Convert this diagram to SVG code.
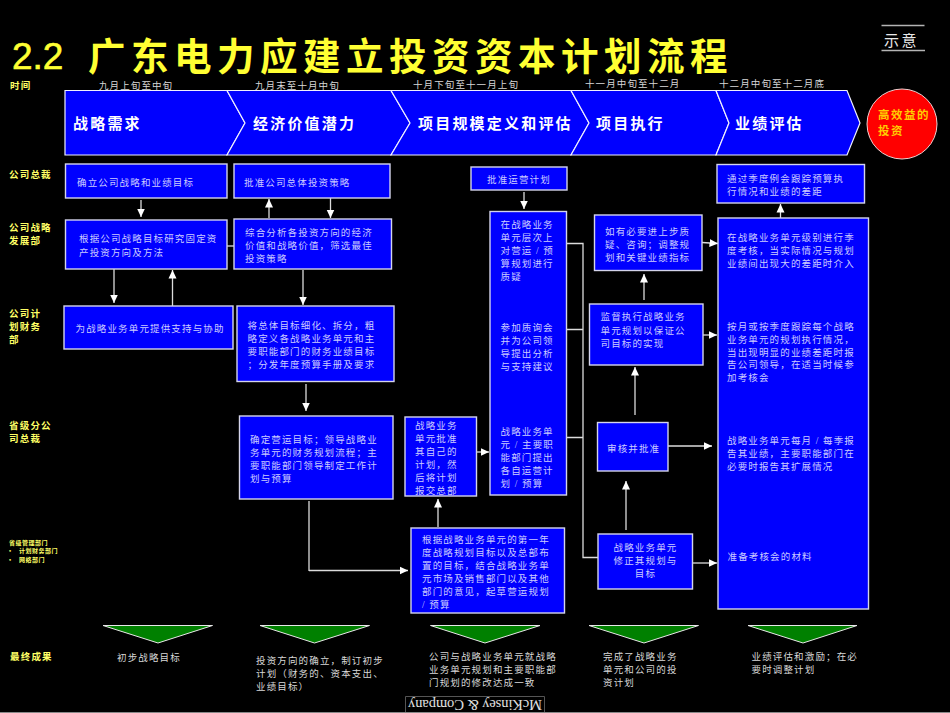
<svg xmlns="http://www.w3.org/2000/svg" width="950" height="713" viewBox="0 0 950 713" xml:lang="zh-CN">
<style>
text{font-family:"Liberation Serif","Noto Sans CJK SC",sans-serif}
.box{fill:#0000ff;stroke:#d4d4ec;stroke-width:1.4}
.chev{fill:#0000ff;stroke:#f0f0ff;stroke-width:1.2}
.tri{fill:#008000;stroke:#e8e8e8;stroke-width:1}
.t{font-size:9.5px;letter-spacing:1.15px;fill:#ccccff}
.b{font-size:9.5px;letter-spacing:1.15px;fill:#d8d8d8}
.d{font-size:9.5px;letter-spacing:1.1px;fill:#d8d8d8}
.r{font-size:9.5px;letter-spacing:1.2px;fill:#ffff66;font-weight:bold}
.s{font-size:6px;letter-spacing:.5px;fill:#ffff66;font-weight:bold}
.h{font-size:15px;letter-spacing:2.2px;fill:#fff;font-weight:bold}
.c{fill:none;stroke:#dcdcdc;stroke-width:1.3}
.a{fill:none;stroke:#dcdcdc;stroke-width:1.3;marker-end:url(#ah)}
</style>
<defs>
<marker id="ah" markerUnits="userSpaceOnUse" markerWidth="9" markerHeight="9" viewBox="0 0 9 9" refX="8.5" refY="4.5" orient="auto"><path d="M0,0.5L8.5,4.5L0,8.5Z" fill="#fff"/></marker>
</defs>
<rect width="950" height="713" fill="#000"/>
<g id="title">
<text x="12" y="69" font-size="37" fill="#ffff33" stroke="#ffff33" stroke-width=".6" style="font-family:'Liberation Sans',sans-serif">2.2</text>
<text x="88" y="70" font-size="37.500" fill="#ffff33" font-weight="bold" letter-spacing="5.500">广东电力应建立投资资本计划流程</text>
</g>
<g id="badge">
<path d="M881.500,25.500H924.500M881.500,50.500H925" stroke="#b4b4b4" stroke-width="1.400" fill="none"/>
<text x="884" y="46" font-size="15" letter-spacing="2.500" fill="#e8e8e8">示意</text>
</g>
<g id="row-labels">
<text class="r" x="10" y="89">时间</text>
<text class="r" x="9" y="178">公司总裁</text>
<text class="r" x="9" y="231">公司战略</text>
<text class="r" x="9" y="244">发展部</text>
<text class="r" x="9" y="317">公司计</text>
<text class="r" x="9" y="330">划财务</text>
<text class="r" x="9" y="343">部</text>
<text class="r" x="9" y="429">省级分公</text>
<text class="r" x="9" y="442">司总裁</text>
<text class="s" x="9" y="544.500">省级管理部门</text>
<text class="s" x="9" y="553">•</text><text class="s" x="19" y="553">计划财务部门</text>
<text class="s" x="9" y="561.500">•</text><text class="s" x="19" y="561.500">网络部门</text>
<text class="r" x="10" y="660">最终成果</text>
</g>
<g id="dates">
<text class="d" x="99" y="89">九月上旬至中旬</text>
<text class="d" x="255" y="89">九月末至十月中旬</text>
<text class="d" x="413" y="88">十月下旬至十一月上旬</text>
<text class="d" x="585" y="87">十一月中旬至十二月</text>
<text class="d" x="719" y="87">十二月中旬至十二月底</text>
</g>
<g id="phase-1"><path class="chev" d="M65,90.500H227L245,123L227,155H65Z"/><text class="h" x="73" y="129">战略需求</text></g>
<g id="phase-2"><path class="chev" d="M227,90.500H391L410,123L391,155H227L245,123Z"/><text class="h" x="253" y="129">经济价值潜力</text></g>
<g id="phase-3"><path class="chev" d="M391,90.500H571L589,123L571,155H391L410,123Z"/><text class="h" x="418" y="129">项目规模定义和评估</text></g>
<g id="phase-4"><path class="chev" d="M571,90.500H716L729,123L716,155H571L589,123Z"/><text class="h" x="596" y="129">项目执行</text></g>
<g id="phase-5"><path class="chev" d="M716,90.500H847L860,123L847,155H716L729,123Z"/><text class="h" x="735" y="129">业绩评估</text></g>
<g id="goal"><circle cx="902" cy="124" r="35" fill="#ff0000" stroke="#f0d0d0" stroke-width="1"/>
<text x="878" y="119" font-size="11.500" letter-spacing="1.500" fill="#ffcc00" font-weight="bold">高效益的</text>
<text x="878" y="135" font-size="11.500" letter-spacing="1.500" fill="#ffcc00" font-weight="bold">投资</text></g>
<g id="connectors">
<path class="a" d="M141,200V217"/>
<path class="a" d="M269,218V199"/>
<path class="a" d="M330.500,198V218"/>
<path class="c" d="M227,246H234"/>
<path class="a" d="M114,269V303"/>
<path class="a" d="M172.500,306V270"/>
<path class="a" d="M303,270V305"/>
<path class="a" d="M306,384V411"/>
<path class="c" d="M309,501V571"/>
<path class="a" d="M309,570.500H408"/>
<path class="a" d="M438,527V499"/>
<path class="a" d="M524,192V209"/>
<path class="a" d="M477,452H489"/>
<path class="c" d="M567,243.500H583V557.500H598M567,329.500H583M567,437.500H583"/>
<path class="a" d="M702,242.500L718,243.500"/>
<path class="a" d="M703,335H717"/>
<path class="a" d="M668,446H712"/>
<path class="a" d="M692,563H717"/>
<path class="a" d="M644,300V274"/>
<path class="a" d="M635,415V367"/>
<path class="a" d="M626,530V481"/>
<path class="a" d="M780.500,218V204"/>
</g>
<g id="n1"><rect class="box" x="65.500" y="164" width="161.500" height="34"/><text class="t" x="77" y="185.500">确立公司战略和业绩目标</text></g>
<g id="n2"><rect class="box" x="234" y="164" width="156" height="34"/><text class="t" x="244" y="185.500">批准公司总体投资策略</text></g>
<g id="n3"><rect class="box" x="471" y="167" width="96" height="23"/><text class="t" x="487" y="183">批准运营计划</text></g>
<g id="n4"><rect class="box" x="717" y="164.500" width="147.500" height="38.500"/><text class="t" x="727" y="182">通过季度例会跟踪预算执</text><text class="t" x="727" y="195">行情况和业绩的差距</text></g>
<g id="n5"><rect class="box" x="65.500" y="220" width="161.500" height="49"/><text class="t" x="79" y="242">根据公司战略目标研究固定资</text><text class="t" x="79" y="255.500">产投资方向及方法</text></g>
<g id="n6"><rect class="box" x="234" y="219" width="157.500" height="50"/><text class="t" x="245" y="235.500">综合分析各投资方向的经济</text><text class="t" x="245" y="248.500">价值和战略价值，筛选最佳</text><text class="t" x="245" y="261.500">投资策略</text></g>
<g id="n7"><rect class="box" x="64" y="306" width="169" height="43"/><text class="t" x="75.500" y="332">为战略业务单元提供支持与协助</text></g>
<g id="n8"><rect class="box" x="237" y="306" width="157" height="75.500"/><text class="t" x="247.500" y="329">将总体目标细化、拆分，粗</text><text class="t" x="247.500" y="342">略定义各战略业务单元和主</text><text class="t" x="247.500" y="355">要职能部门的财务业绩目标</text><text class="t" x="247.500" y="368">；分发年度预算手册及要求</text></g>
<g id="n9"><rect class="box" x="239.500" y="416" width="153.500" height="83"/><text class="t" x="250" y="443">确定营运目标；领导战略业</text><text class="t" x="250" y="456">务单元的财务规划流程；主</text><text class="t" x="250" y="469">要职能部门领导制定工作计</text><text class="t" x="250" y="482">划与预算</text></g>
<g id="n10"><rect class="box" x="405" y="417" width="71.500" height="79"/><text class="t" x="415" y="429">战略业务</text><text class="t" x="415" y="442">单元批准</text><text class="t" x="415" y="455">其自己的</text><text class="t" x="415" y="468">计划，然</text><text class="t" x="415" y="481">后将计划</text><text class="t" x="415" y="494">报交总部</text></g>
<g id="n11"><rect class="box" x="490" y="211.500" width="76.500" height="283.500"/>
<text class="t" x="500.500" y="228">在战略业务</text><text class="t" x="500.500" y="241">单元层次上</text><text class="t" x="500.500" y="254">对营运 / 预</text><text class="t" x="500.500" y="267">算规划进行</text><text class="t" x="500.500" y="280">质疑</text>
<text class="t" x="500.500" y="331">参加质询会</text><text class="t" x="500.500" y="344">并为公司领</text><text class="t" x="500.500" y="357">导提出分析</text><text class="t" x="500.500" y="370">与支持建议</text>
<text class="t" x="500.500" y="434.500">战略业务单</text><text class="t" x="500.500" y="447.500">元 / 主要职</text><text class="t" x="500.500" y="460.500">能部门提出</text><text class="t" x="500.500" y="473.500">各自运营计</text><text class="t" x="500.500" y="486.500">划 / 预算</text></g>
<g id="n12"><rect class="box" x="594.500" y="215" width="107.500" height="55.500"/><text class="t" x="605" y="234.500">如有必要进上步质</text><text class="t" x="605" y="247.500">疑、咨询；调整规</text><text class="t" x="605" y="260.500">划和关键业绩指标</text></g>
<g id="n13"><rect class="box" x="589.500" y="304" width="113.500" height="61"/><text class="t" x="600.500" y="320">监督执行战略业务</text><text class="t" x="600.500" y="333.500">单元规划以保证公</text><text class="t" x="600.500" y="346.500">司目标的实现</text></g>
<g id="n14"><rect class="box" x="597.500" y="422.500" width="70.500" height="48.500"/><text class="t" x="607" y="451.500">审核并批准</text></g>
<g id="n15"><rect class="box" x="411" y="528" width="153.500" height="85"/><text class="t" x="422" y="543">根据战略业务单元的第一年</text><text class="t" x="422" y="556">度战略规划目标以及总部布</text><text class="t" x="422" y="569">置的目标，结合战略业务单</text><text class="t" x="422" y="582">元市场及销售部门以及其他</text><text class="t" x="422" y="595">部门的意见，起草营运规划</text><text class="t" x="422" y="608">/ 预算</text></g>
<g id="n16"><rect class="box" x="598" y="534" width="94.500" height="55"/><text class="t" x="645.500" y="550.500" text-anchor="middle">战略业务单元</text><text class="t" x="645.500" y="563.500" text-anchor="middle">修正其规划与</text><text class="t" x="645.500" y="576.500" text-anchor="middle">目标</text></g>
<g id="n17"><rect class="box" x="718" y="218" width="150.500" height="391"/>
<text class="t" x="727" y="240.500">在战略业务单元级别进行季</text><text class="t" x="727" y="253.500">度考核，当实际情况与规划</text><text class="t" x="727" y="266.500">业绩间出现大的差距时介入</text>
<text class="t" x="727" y="329.500">按月或按季度跟踪每个战略</text><text class="t" x="727" y="342.500">业务单元的规划执行情况，</text><text class="t" x="727" y="355.500">当出现明显的业绩差距时报</text><text class="t" x="727" y="368">告公司领导，在适当时候参</text><text class="t" x="727" y="381">加考核会</text>
<text class="t" x="727" y="444">战略业务单元每月 / 每季报</text><text class="t" x="727" y="457">告其业绩，主要职能部门在</text><text class="t" x="727" y="470">必要时报告其扩展情况</text>
<text class="t" x="727.500" y="559.500">准备考核会的材料</text></g>
<g id="outcome-1"><path class="tri" d="M103,625.500H212.500L158,643Z"/><text class="b" x="117" y="660.500">初步战略目标</text></g>
<g id="outcome-2"><path class="tri" d="M260,625.500H369.500L314.500,643Z"/><text class="b" x="256" y="664">投资方向的确立，制订初步</text><text class="b" x="256" y="677">计划（财务的、资本支出、</text><text class="b" x="256" y="690">业绩目标）</text></g>
<g id="outcome-3"><path class="tri" d="M430.500,625.500H540L485,643Z"/><text class="b" x="429" y="659.500">公司与战略业务单元就战略</text><text class="b" x="429" y="672.500">业务单元规划和主要职能部</text><text class="b" x="429" y="685.500">门规划的修改达成一致</text></g>
<g id="outcome-4"><path class="tri" d="M589,625.500H698.500L644,643Z"/><text class="b" x="603" y="659.500">完成了战略业务</text><text class="b" x="603" y="672.500">单元和公司的投</text><text class="b" x="603" y="685.500">资计划</text></g>
<g id="outcome-5"><path class="tri" d="M748,625.500H857L803,643Z"/><text class="b" x="751.500" y="659.500">业绩评估和激励；在必</text><text class="b" x="751.500" y="672.500">要时调整计划</text></g>
<g id="footer">
<path d="M405.500,712V696.500H544.500V712" fill="none" stroke="#555" stroke-width="1"/>
<text transform="rotate(180 475 704.500)" x="475" y="709" text-anchor="middle" font-size="14.500" fill="#e0e0e0" textLength="134" style="font-family:'Liberation Serif',serif">McKinsey &amp; Company</text>
<rect x="0" y="712" width="950" height="1" fill="#888"/>
</g>
</svg>
